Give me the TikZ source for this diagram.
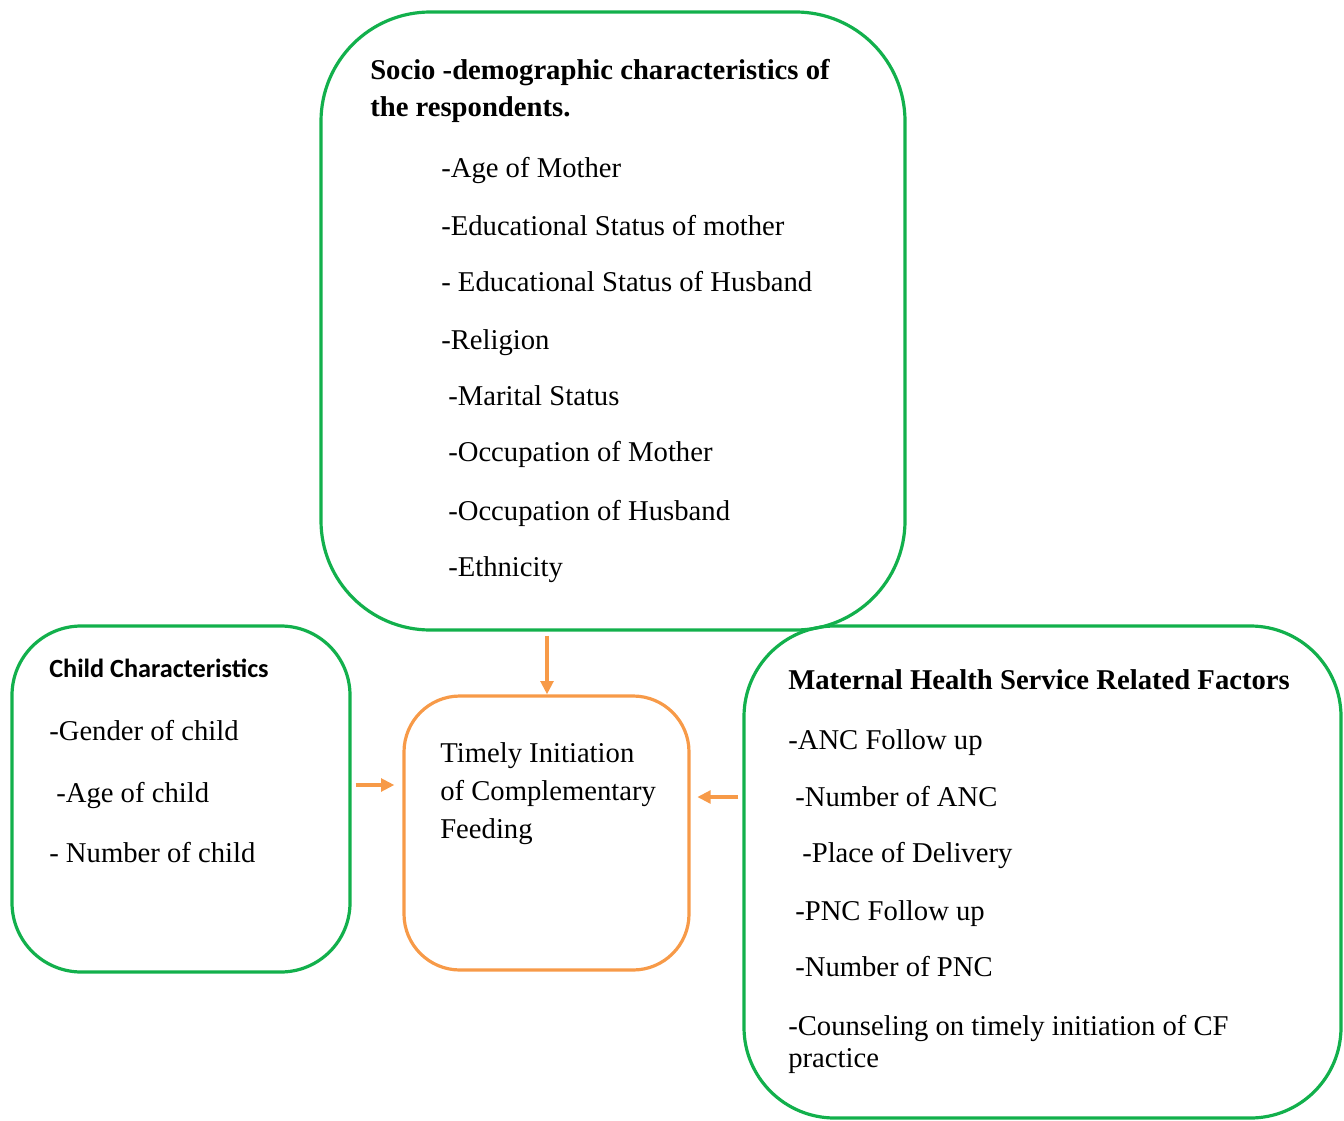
\documentclass[tikz,border=0pt]{standalone}
\usepackage{fontspec}
\setmainfont{Liberation Serif}
\newfontfamily\calibri{Carlito}
\usetikzlibrary{fit,arrows.meta}
\definecolor{gline}{HTML}{12B04C}
\definecolor{oline}{HTML}{F79A48}
\tikzset{
  gbox/.style={draw=gline, line width=2.4pt, inner sep=0pt},
  obox/.style={draw=oline, line width=2.4pt, inner sep=0pt},
  txt/.style={anchor=west, inner sep=0pt, yshift=-4.5pt, text height=0.68em, text depth=0.2em, font=\fontsize{21.5}{25}\selectfont},
  btxt/.style={txt, font=\fontsize{21.5}{25}\selectfont\bfseries},
  ctxt/.style={txt, font=\fontsize{19.7}{23}\selectfont\calibri\bfseries},
  arr/.style={draw=oline, line width=2.6pt, -{Triangle[length=10pt,width=9.5pt]}}
}
\begin{document}
\begin{tikzpicture}[x=0.75pt,y=-0.75pt]
\useasboundingbox (0,0) rectangle (1344,1120);
% boxes
\node[gbox, rounded corners=82pt, fit={(321,12) (905,630)}] (top) {};
\node[gbox, rounded corners=52pt, fit={(12,626) (350,972)}] (left) {};
\node[obox, rounded corners=42pt, fit={(404,696) (689,970)}] (cen) {};
\node[gbox, rounded corners=68pt, fit={(744,626) (1341,1118)}] (right) {};
% top text
\node[btxt] (t0) at (370,70) {Socio -demographic characteristics of};
\node[btxt] (t1) at (370,107) {the respondents.};
\node[txt] (t2) at (441,168) {-Age of Mother};
\node[txt] (t3) at (441,226) {-Educational Status of mother};
\node[txt] (t4) at (441,282) {- Educational Status of Husband};
\node[txt] (t5) at (441,340) {-Religion};
\node[txt] (t6) at (448,396) {-Marital Status};
\node[txt] (t7) at (448,452) {-Occupation of Mother};
\node[txt] (t8) at (448,511) {-Occupation of Husband};
\node[txt] (t9) at (448,567) {-Ethnicity};
% left text
\node[ctxt] (l0) at (49,668) {Child Characteristics};
\node[txt] (l1) at (49,731) {-Gender of child};
\node[txt] (l2) at (56,793) {-Age of child};
\node[txt] (l3) at (49,853) {- Number of child};
% center text
\node[txt] (c1) at (440,753) {Timely Initiation};
\node[txt] (c2) at (440,791) {of Complementary};
\node[txt] (c3) at (440,829) {Feeding};
% right text
\node[btxt] (r0) at (788,680) {Maternal Health Service Related Factors};
\node[txt] (r1) at (788,740) {-ANC Follow up};
\node[txt] (r2) at (795,797) {-Number of ANC};
\node[txt] (r3) at (802,853) {-Place of Delivery};
\node[txt] (r4) at (795,911) {-PNC Follow up};
\node[txt] (r5) at (795,967) {-Number of PNC};
\node[txt] (r6) at (788,1026) {-Counseling on timely initiation of CF};
\node[txt] (r7) at (788,1058) {practice};
% arrows
\coordinate (ya) at (0,785);
\coordinate (yb) at (0,797);
\coordinate (xa) at (547,0);
\draw[arr, shorten <=3pt] (top.south -| xa) -- (cen.north -| xa);
\draw[arr, shorten <=3pt, shorten >=6pt] (left.east |- ya) -- (cen.west |- ya);
\draw[arr, shorten <=3pt, shorten >=5pt] (right.west |- yb) -- (cen.east |- yb);
\end{tikzpicture}
\end{document}
